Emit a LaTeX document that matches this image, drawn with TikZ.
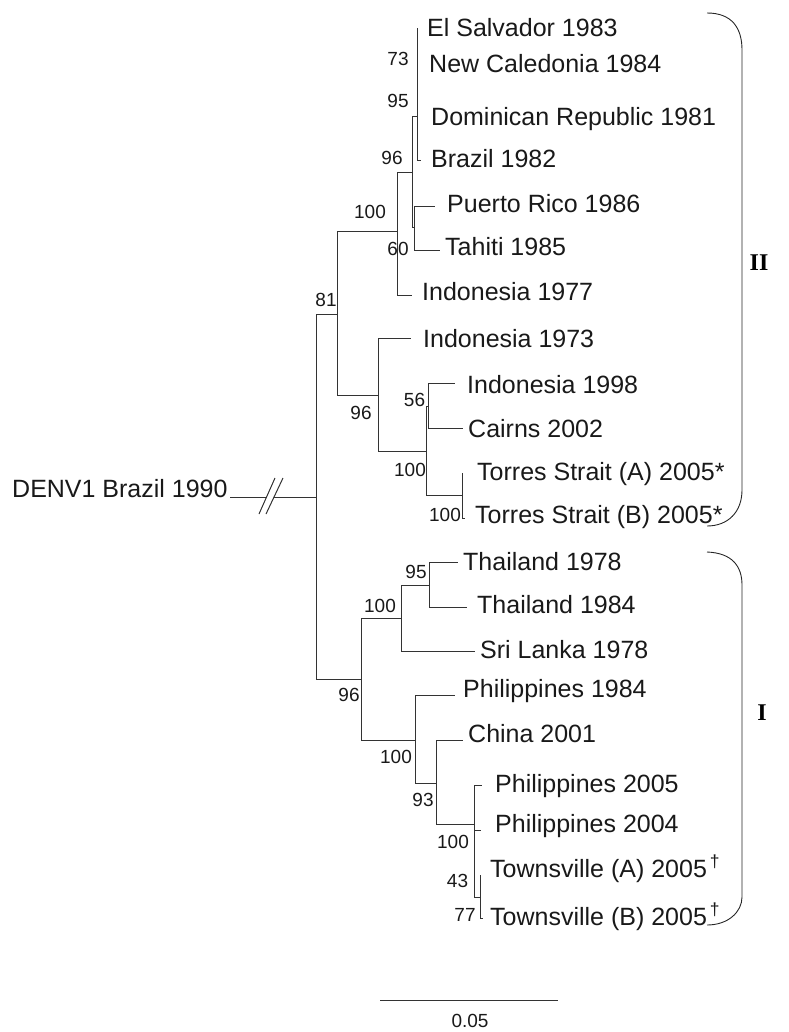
\documentclass[tikz,border=0pt]{standalone}
\usepackage{fontspec}
\setmainfont{Liberation Sans}
\newfontfamily\cladeserif{Liberation Serif}
\newcommand{\taxonsize}{\fontsize{25}{30}\selectfont}
\newcommand{\bootsize}{\fontsize{19}{22}\selectfont}
\newcommand{\cladesize}{\fontsize{24}{28}\selectfont}

\begin{document}
\begin{tikzpicture}[x=1pt, y=-1pt,
	branch/.style={draw=black!80, line width=1pt},
	bracket/.style={draw=black!85, line width=0.9pt},
	taxon/.style={anchor=base west, inner sep=0pt, text=black!90, font=\taxonsize},
	boot/.style={inner sep=0pt, text=black!90, font=\bootsize},
	clade/.style={inner sep=0pt, font=\cladeserif\cladesize\bfseries}]
				\useasboundingbox (0,0) rectangle (788,1032);
				
				\coordinate (root) at (316,497.5);
				\coordinate (out) at (230,497.5);
				\coordinate (brkA) at (266.3,497.5);
				\coordinate (brkB) at (274.3,497.5);
				
				\coordinate (n81) at (337,314);
				\coordinate (n100a) at (397,232);
				\coordinate (n96b) at (412,172.5);
				\coordinate (n96c) at (417,117);
				\coordinate (n95a) at (417,82);
				\coordinate (n73) at (417,46.5);
				\coordinate (n60) at (414,228);
				\coordinate (n96a) at (378,395);
				\coordinate (n96d) at (426,451);
				\coordinate (n56) at (428,406);
				\coordinate (n100b) at (462.7,495.5);
				
				\coordinate (tElSalvador) at (417,28);
				\coordinate (tNewCaledonia) at (417,65);
				\coordinate (tDominican) at (417,117);
				\coordinate (tBrazil82) at (421,161);
				\coordinate (tPuertoRico) at (435,207);
				\coordinate (tTahiti) at (440,250);
				\coordinate (tIndonesia77) at (412,295);
				\coordinate (tIndonesia73) at (411,338);
				\coordinate (tIndonesia98) at (455,383);
				\coordinate (tCairns) at (463,428);
				\coordinate (tTorresA) at (462.7,473);
				\coordinate (tTorresB) at (465,518);
				
				\coordinate (nI) at (361.7,679);
				\coordinate (n100c) at (401.7,618);
				\coordinate (n95b) at (429,585);
				\coordinate (n100d) at (415,740.7);
				\coordinate (n93) at (436,783);
				\coordinate (n100e) at (474.3,824);
				\coordinate (nPT) at (474.3,863);
				\coordinate (n43) at (480,897);
				
				\coordinate (tThai78) at (457.7,562.3);
				\coordinate (tThai84) at (467.3,607.3);
				\coordinate (tSriLanka) at (475,651.7);
				\coordinate (tPhil84) at (455,695.7);
				\coordinate (tChina) at (462.7,740.7);
				\coordinate (tPhil05) at (481.7,785);
				\coordinate (tPhil04) at (481,830);
				\coordinate (tTownA) at (480,875);
				\coordinate (tTownB) at (482.5,918);
				
				\draw[branch] (root) |- (n81);
				\draw[branch] (root) |- (nI);
				\draw[branch] (root) -- (brkB);
				\draw[branch] (brkA) -- (out);
				\draw[branch] (259,514) -- (275,478);
				\draw[branch] (266,514) -- (283,478);
				
				\draw[branch] (n81) |- (n100a);
				\draw[branch] (n81) |- (n96a);
				\draw[branch] (n100a) |- (n96b);
				\draw[branch] (n100a) |- (tIndonesia77);
				\draw[branch] (n96b) |- (n96c);
				\draw[branch] (n96b) |- (n60);
				\draw[branch] (n96c) |- (n95a);
				\draw[branch] (n96c) |- (tBrazil82);
				\draw[branch] (n95a) |- (n73);
				\draw[branch] (n95a) |- (tDominican);
				\draw[branch] (n73) |- (tElSalvador);
				\draw[branch] (n73) |- (tNewCaledonia);
				\draw[branch] (n60) |- (tPuertoRico);
				\draw[branch] (n60) |- (tTahiti);
				\draw[branch] (n96a) |- (tIndonesia73);
				\draw[branch] (n96a) |- (n96d);
				\draw[branch] (n96d) |- (n56);
				\draw[branch] (n96d) |- (n100b);
				\draw[branch] (n56) |- (tIndonesia98);
				\draw[branch] (n56) |- (tCairns);
				\draw[branch] (n100b) |- (tTorresA);
				\draw[branch] (n100b) |- (tTorresB);
				
				\draw[branch] (nI) |- (n100c);
				\draw[branch] (nI) |- (n100d);
				\draw[branch] (n100c) |- (n95b);
				\draw[branch] (n100c) |- (tSriLanka);
				\draw[branch] (n95b) |- (tThai78);
				\draw[branch] (n95b) |- (tThai84);
				\draw[branch] (n100d) |- (tPhil84);
				\draw[branch] (n100d) |- (n93);
				\draw[branch] (n93) |- (tChina);
				\draw[branch] (n93) |- (n100e);
				\draw[branch] (n100e) |- (tPhil05);
				\draw[branch] (n100e) |- (nPT);
				\draw[branch] (nPT) |- (tPhil04);
				\draw[branch] (nPT) |- (n43);
				\draw[branch] (n43) |- (tTownA);
				\draw[branch] (n43) |- (tTownB);
				
				\node[taxon] (lOut) at (12,497) {DENV1 Brazil 1990};
				\node[taxon] (lElSalvador) at (427,37) {El Salvador 1983};
				\node[taxon] (lNewCaledonia) at (429,73) {New Caledonia 1984};
				\node[taxon] (lDominican) at (431,126) {Dominican Republic 1981};
				\node[taxon] (lBrazil82) at (431,168) {Brazil 1982};
				\node[taxon] (lPuertoRico) at (447,213) {Puerto Rico 1986};
				\node[taxon] (lTahiti) at (445,255) {Tahiti 1985};
				\node[taxon] (lIndonesia77) at (422,300) {Indonesia 1977};
				\node[taxon] (lIndonesia73) at (423,347) {Indonesia 1973};
				\node[taxon] (lIndonesia98) at (467,393) {Indonesia 1998};
				\node[taxon] (lCairns) at (468,437) {Cairns 2002};
				\node[taxon] (lTorresA) at (477,480) {Torres Strait (A) 2005*};
				\node[taxon] (lTorresB) at (475,523) {Torres Strait (B) 2005*};
				\node[taxon] (lThai78) at (463,570) {Thailand 1978};
				\node[taxon] (lThai84) at (477,613) {Thailand 1984};
				\node[taxon] (lSriLanka) at (480,658) {Sri Lanka 1978};
				\node[taxon] (lPhil84) at (463,697) {Philippines 1984};
				\node[taxon] (lChina) at (468,742) {China 2001};
				\node[taxon] (lPhil05) at (495,792) {Philippines 2005};
				\node[taxon] (lPhil04) at (495,832) {Philippines 2004};
				\node[taxon] (lTownA) at (490,877) {Townsville (A) 2005\textsuperscript{\,\textdagger}};
				\node[taxon] (lTownB) at (490,925) {Townsville (B) 2005\textsuperscript{\,\textdagger}};
				
				\node[boot] (b73) at (398,59) {73};
				\node[boot] (b95a) at (398,101) {95};
				\node[boot] (b96c) at (392,158) {96};
				\node[boot] (b100a) at (370,212) {100};
				\node[boot] (b60) at (398,249) {60};
				\node[boot] (b81) at (326,300) {81};
				\node[boot] (b56) at (414.5,400) {56};
				\node[boot] (b96a) at (361,413) {96};
				\node[boot] (b100b) at (410,470) {100};
				\node[boot] (b100t) at (445,515) {100};
				\node[boot] (b95b) at (416,572) {95};
				\node[boot] (b100c) at (380,606) {100};
				\node[boot] (b96b) at (349,695) {96};
				\node[boot] (b100d) at (396,757) {100};
				\node[boot] (b93) at (423,800) {93};
				\node[boot] (b100e) at (453,842) {100};
				\node[boot] (b43) at (457.5,881) {43};
				\node[boot] (b77) at (465,915) {77};
				
				\draw[bracket] (707,13) .. controls (732,13) and (742,28) .. (742,50) -- (742,490) .. controls (742,512) and (728,526) .. (707,526);
				\draw[bracket] (707,552) .. controls (732,553) and (742,566) .. (742,585) -- (742,897) .. controls (742,912) and (728,925) .. (707,925);
				\node[clade] (cII) at (759,263) {II};
				\node[clade] (cI) at (762,713) {I};
				
				\coordinate (sbL) at (380,1000);
				\coordinate (sbR) at (557.7,1000);
				\draw[branch] (sbL) -- (sbR);
				\node[boot] (sbLabel) at (470,1021) {0.05};
			\end{tikzpicture}
\end{document}
